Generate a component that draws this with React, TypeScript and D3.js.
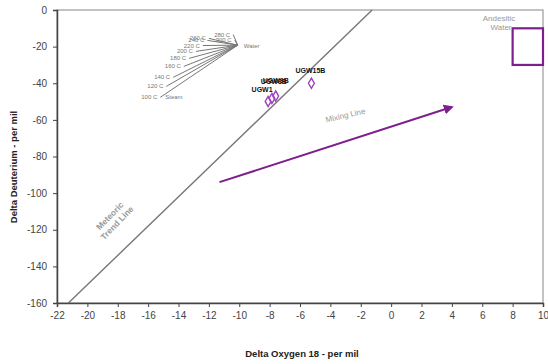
import React, { useRef, useEffect } from 'react';
import * as d3 from 'd3';

// axis ticks
const xTicks = d3.range(-22, 11, 2);
const yTicks = d3.range(-160, 1, 20);

// global meteoric water line end points (dO18, dD)
const meteoricX = [-21.25, -1.25];
const meteoricY = [-160, 0];

// steam / water separation fan
const fanTemps = ['100 C', '120 C', '140 C', '160 C', '180 C', '200 C', '220 C', '240 C', '260 C', '280 C', '300 C'];
const fanSteamX = [-15.2, -14.8, -14.35, -13.65, -13.3, -12.85, -12.4, -12.1, -12.0, -10.4, -10.3];
const fanSteamY = [-47.7, -41.7, -36.8, -30.8, -26.4, -22.6, -19.4, -16.6, -15.5, -13.4, -16.5];
const waterX = -10.1;
const waterY = -19.2;

// samples
const sampleNames = ['UGW1', 'UGW8B', 'UGW9B', 'UGW15B'];
const sampleX = [-8.1, -7.85, -7.6, -5.25];
const sampleY = [-49.9, -48.3, -47.0, -40.0];

// andesitic water box
const andesiticX = [8, 10];
const andesiticY = [-30, -10];

// mixing line arrow
const mixX = [-11.3, 4];
const mixY = [-94, -53];

const W = 548;
const H = 364;
const margin = { top: 10, right: 5, bottom: 61, left: 57 };
const purple = '#7d1f8c';
const font = '"Liberation Sans", Arial, sans-serif';

const App = () => {
  const ref = useRef<SVGSVGElement>(null);

  useEffect(() => {
    const svg = d3.select(ref.current);
    svg.selectAll('*').remove();

    const x = d3.scaleLinear().domain([-22, 10]).range([margin.left, W - margin.right]);
    const y = d3.scaleLinear().domain([-160, 0]).range([H - margin.bottom, margin.top]);

    // frame
    svg.append('rect')
      .attr('x', x(-22)).attr('y', y(0))
      .attr('width', x(10) - x(-22)).attr('height', y(-160) - y(0))
      .attr('fill', 'none').attr('stroke', '#999').attr('stroke-width', 1.2);

    // axes (plain hyphen minus like the original)
    const xAxis = svg.append('g')
      .attr('transform', `translate(0,${y(-160)})`)
      .call(d3.axisBottom(x).tickValues(xTicks).tickSize(4).tickPadding(5).tickFormat(d => String(d)));
    const yAxis = svg.append('g')
      .attr('transform', `translate(${x(-22)},0)`)
      .call(d3.axisLeft(y).tickValues(yTicks).tickSize(4).tickPadding(6).tickFormat(d => String(d)));
    [xAxis, yAxis].forEach(a => {
      a.select('.domain').attr('stroke', '#444').attr('stroke-width', 1.5);
      a.selectAll('.tick line').attr('stroke', '#444');
      a.selectAll('.tick text')
        .attr('fill', '#444')
        .style('font-family', font)
        .style('font-size', '10px');
    });

    // axis titles
    svg.append('text')
      .attr('x', 302).attr('y', 357)
      .attr('text-anchor', 'middle')
      .style('font-family', font)
      .style('font-size', '9.5px').style('font-weight', 'bold')
      .attr('fill', '#222')
      .text('Delta Oxygen 18 - per mil');
    svg.append('text')
      .attr('transform', 'translate(17,167) rotate(-90)')
      .attr('text-anchor', 'middle')
      .style('font-family', font)
      .style('font-size', '9.5px').style('font-weight', 'bold')
      .attr('fill', '#222')
      .text('Delta Deuterium - per mil');

    // meteoric line
    svg.append('line')
      .attr('x1', x(meteoricX[0])).attr('y1', y(meteoricY[0]))
      .attr('x2', x(meteoricX[1])).attr('y2', y(meteoricY[1]))
      .attr('stroke', '#777').attr('stroke-width', 1.4);

    const mt = svg.append('text')
      .attr('transform', 'translate(112,218) rotate(-46)')
      .attr('text-anchor', 'middle')
      .style('font-family', font)
      .style('font-size', '8.5px').style('font-weight', 'bold')
      .attr('fill', '#999');
    mt.append('tspan').attr('x', 0).attr('dy', 0).text('Meteoric');
    mt.append('tspan').attr('x', 0).attr('dy', 10).text('Trend Line');

    // fan
    const fan = svg.append('g');
    fanTemps.forEach((t, i) => {
      fan.append('line')
        .attr('x1', x(fanSteamX[i])).attr('y1', y(fanSteamY[i]))
        .attr('x2', x(waterX)).attr('y2', y(waterY))
        .attr('stroke', '#777').attr('stroke-width', 1);
      fan.append('text')
        .attr('x', x(fanSteamX[i]) - 3).attr('y', y(fanSteamY[i]) + 2)
        .attr('text-anchor', 'end')
        .style('font-family', font)
        .style('font-size', '6px')
        .attr('fill', '#777')
        .text(t);
    });
    fan.append('text')
      .attr('x', x(fanSteamX[0]) + 5).attr('y', y(fanSteamY[0]) + 2)
      .style('font-family', font)
      .style('font-size', '6px').attr('fill', '#777')
      .text('Steam');
    fan.append('text')
      .attr('x', x(waterX) + 6).attr('y', y(waterY) + 3)
      .style('font-family', font)
      .style('font-size', '6px').attr('fill', '#777')
      .text('Water');

    // andesitic water box
    svg.append('rect')
      .attr('x', x(andesiticX[0])).attr('y', y(andesiticY[1]))
      .attr('width', x(andesiticX[1]) - x(andesiticX[0]))
      .attr('height', y(andesiticY[0]) - y(andesiticY[1]))
      .attr('fill', 'none').attr('stroke', purple).attr('stroke-width', 2.2);
    const at = svg.append('text')
      .attr('text-anchor', 'middle')
      .style('font-family', font)
      .style('font-size', '8px')
      .attr('fill', '#999');
    at.append('tspan').attr('x', 499).attr('y', 21).text('Andesitic');
    at.append('tspan').attr('x', 501).attr('y', 30).text('Water');

    // mixing arrow
    svg.append('defs').append('marker')
      .attr('id', 'arrow').attr('viewBox', '0 0 10 10')
      .attr('refX', 8).attr('refY', 5)
      .attr('markerWidth', 5).attr('markerHeight', 5)
      .attr('orient', 'auto')
      .append('path').attr('d', 'M0,0 L10,5 L0,10 Z').attr('fill', purple);
    svg.append('line')
      .attr('x1', x(mixX[0])).attr('y1', y(mixY[0]))
      .attr('x2', x(mixX[1])).attr('y2', y(mixY[1]))
      .attr('stroke', purple).attr('stroke-width', 2)
      .attr('marker-end', 'url(#arrow)');
    svg.append('text')
      .attr('transform', 'translate(346,118) rotate(-13)')
      .attr('text-anchor', 'middle')
      .style('font-family', font)
      .style('font-size', '8px')
      .attr('fill', '#999')
      .text('Mixing Line');

    // samples
    const diamond = d3.symbol().type(d3.symbolDiamond).size(30);
    sampleNames.forEach((n, i) => {
      svg.append('path')
        .attr('d', diamond)
        .attr('transform', `translate(${x(sampleX[i])},${y(sampleY[i])})`)
        .attr('fill', 'none').attr('stroke', '#a040c0').attr('stroke-width', 1.4);
    });
    const labelDx = [-6, 2, 0, -1];
    const labelDy = [-9, -14, -13, -10];
    sampleNames.forEach((n, i) => {
      svg.append('text')
        .attr('x', x(sampleX[i]) + labelDx[i]).attr('y', y(sampleY[i]) + labelDy[i])
        .attr('text-anchor', 'middle')
        .style('font-family', font)
        .style('font-size', '7px').style('font-weight', 'bold')
        .attr('fill', '#111')
        .text(n);
    });
  }, []);

  return (
    <svg ref={ref} width={W} height={H}
      style={{ position: 'absolute', left: 0, top: 0, background: '#fff' }} />
  );
};

export default App;
